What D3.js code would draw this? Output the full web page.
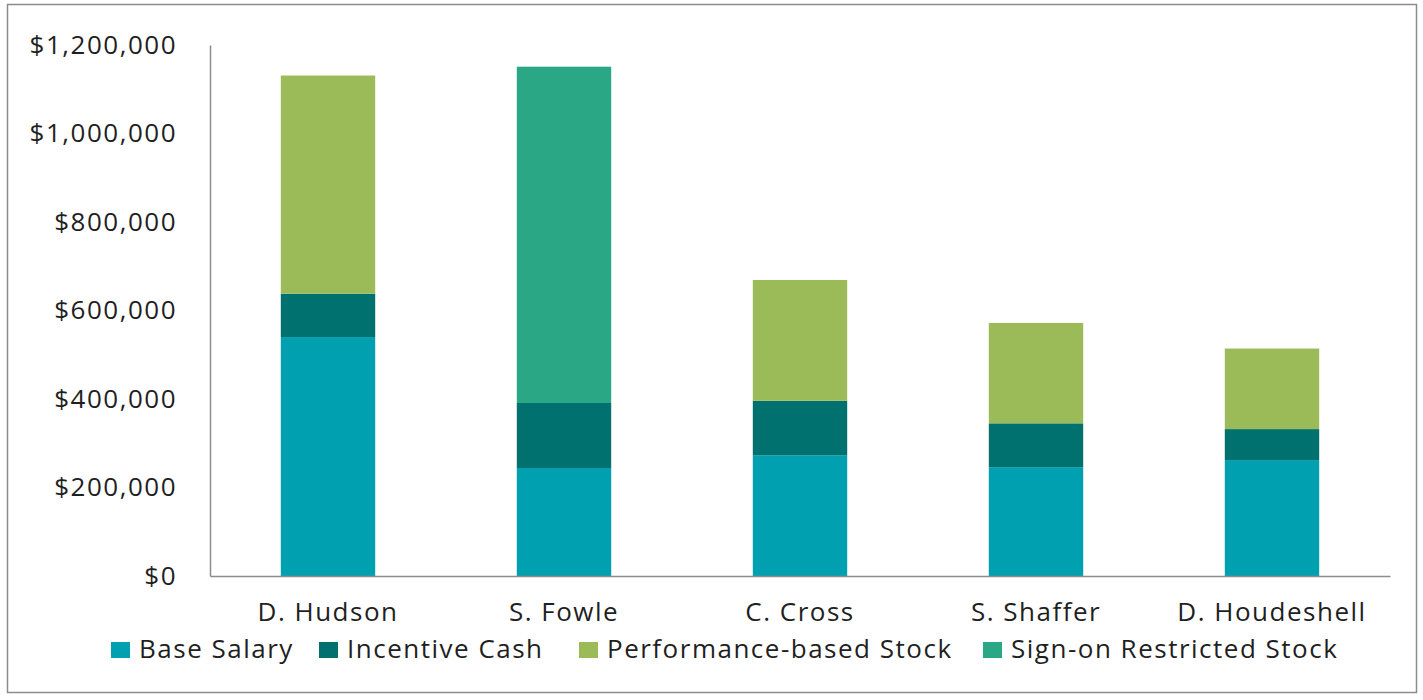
<!DOCTYPE html>
<html>
<head>
<meta charset="utf-8">
<script src="https://cdn.jsdelivr.net/npm/d3@7"></script>
<style>
  body { margin: 0; background: #fff; }
  text { font-family: "Open Sans", sans-serif; fill: #1f1f1f; }
</style>
</head>
<body>
<svg id="chart" width="1423" height="700"></svg>
<script>
const names = ["D. Hudson", "S. Fowle", "C. Cross", "S. Shaffer", "D. Houdeshell"]
const seriesNames = ["Base Salary", "Incentive Cash", "Performance-based Stock", "Sign-on Restricted Stock"]
const baseSalary = [540000, 244000, 273000, 246000, 262000]
const incentiveCash = [98000, 147000, 123000, 99000, 70000]
const perfStock = [493000, 0, 273000, 227000, 182000]
const signOnStock = [0, 760000, 0, 0, 0]
const yTicks = [0, 200000, 400000, 600000, 800000, 1000000, 1200000]
const colors = ["#00A0B0", "#00716E", "#9BBB59", "#2AA784"]

const svg = d3.select("#chart")

// outer frame
svg.append("rect")
  .attr("x", 7.5).attr("y", 4.5).attr("width", 1409).attr("height", 688)
  .attr("fill", "none").attr("stroke", "#8c8c8c").attr("stroke-width", 1.5)

const rows = names.map((n, i) => ({
  name: n,
  "Base Salary": baseSalary[i],
  "Incentive Cash": incentiveCash[i],
  "Performance-based Stock": perfStock[i],
  "Sign-on Restricted Stock": signOnStock[i],
}))

const stacked = d3.stack().keys(seriesNames)(rows)

const x = d3.scaleBand().domain(names).range([210, 1390]).paddingInner(0.6).paddingOuter(0.3)
const y = d3.scaleLinear().domain([0, 1200000]).range([576, 45])
const color = d3.scaleOrdinal().domain(seriesNames).range(colors)

const fmt = (v) => "$" + d3.format(",")(v)

// bars
svg.append("g")
  .selectAll("g")
  .data(stacked)
  .join("g")
  .attr("fill", (d) => color(d.key))
  .selectAll("rect")
  .data((d) => d)
  .join("rect")
  .attr("x", (d) => x(d.data.name))
  .attr("width", x.bandwidth())
  .attr("y", (d) => y(d[1]))
  .attr("height", (d) => y(d[0]) - y(d[1]))

// y axis
const yAxis = svg.append("g")
  .attr("transform", "translate(210,0)")
  .call(d3.axisLeft(y).tickValues(yTicks).tickFormat(fmt).tickSize(0).tickPadding(33))
yAxis.select(".domain").attr("stroke", "#8c8c8c").attr("stroke-width", 1.5)
yAxis.selectAll("text")
  .attr("font-size", 26).attr("letter-spacing", 1.5)
  .style("font-family", '"Open Sans", sans-serif').attr("fill", "#1f1f1f")

// x axis
const xAxis = svg.append("g")
  .attr("transform", "translate(0,576)")
  .call(d3.axisBottom(x).tickSize(0).tickPadding(27))
xAxis.select(".domain").attr("stroke", "#8c8c8c").attr("stroke-width", 1.5)
xAxis.selectAll("text")
  .attr("font-size", 26).attr("letter-spacing", 1.5)
  .style("font-family", '"Open Sans", sans-serif').attr("fill", "#1f1f1f")

// legend
const legendX = [111, 319, 579, 983]
const legend = svg.append("g")
  .selectAll("g")
  .data(seriesNames)
  .join("g")
  .attr("transform", (d, i) => `translate(${legendX[i]},642)`)
legend.append("rect").attr("width", 19).attr("height", 16).attr("fill", (d) => color(d))
legend.append("text")
  .attr("x", 28).attr("y", 16)
  .attr("font-size", 26).attr("letter-spacing", 1.5)
  .text((d) => d)
</script>
</body>
</html>
